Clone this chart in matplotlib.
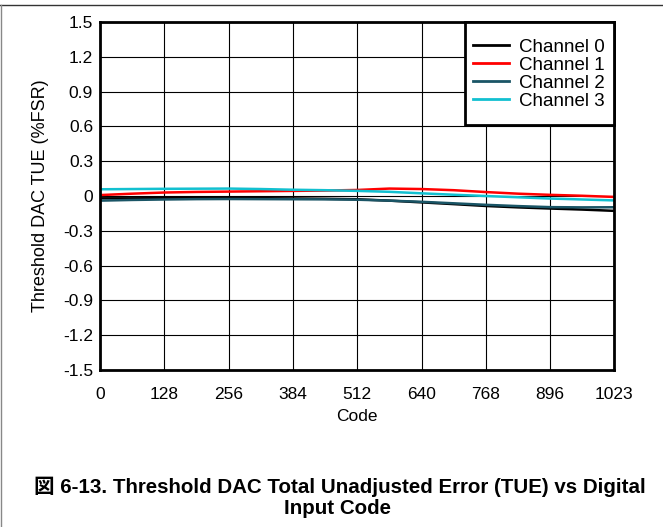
import matplotlib
matplotlib.use('Agg')
import matplotlib.pyplot as plt
from matplotlib.lines import Line2D
from matplotlib.patches import Rectangle

plt.rcParams['font.family'] = ['Liberation Sans', 'Noto Sans CJK JP', 'DejaVu Sans']

# ---- data ----
code = [0, 64, 128, 192, 256, 320, 384, 448, 512, 576, 640, 704, 768, 832, 896, 960, 1023]
ch0 = [-0.020, -0.020, -0.019, -0.018, -0.018, -0.019, -0.021, -0.024, -0.028, -0.040, -0.055, -0.070, -0.086, -0.098, -0.108, -0.117, -0.128]
ch1 = [0.008, 0.020, 0.030, 0.035, 0.038, 0.041, 0.044, 0.047, 0.052, 0.064, 0.060, 0.050, 0.034, 0.020, 0.010, 0.002, -0.008]
ch2 = [-0.040, -0.034, -0.030, -0.027, -0.026, -0.027, -0.028, -0.029, -0.032, -0.040, -0.050, -0.063, -0.076, -0.087, -0.096, -0.098, -0.097]
ch3 = [0.058, 0.060, 0.062, 0.063, 0.064, 0.060, 0.054, 0.050, 0.044, 0.036, 0.023, 0.011, 0.000, -0.011, -0.022, -0.030, -0.038]

channels = ["Channel 0", "Channel 1", "Channel 2", "Channel 3"]
colors = ["#000000", "#FF0000", "#1A5566", "#12C0D0"]

xticks = [0, 128, 256, 384, 512, 640, 768, 896, 1023]
yticks = [1.5, 1.2, 0.9, 0.6, 0.3, 0, -0.3, -0.6, -0.9, -1.2, -1.5]
ytick_labels = ["1.5", "1.2", "0.9", "0.6", "0.3", "0", "-0.3", "-0.6", "-0.9", "-1.2", "-1.5"]

W, H = 663, 527
AX_L, AX_R, AX_T, AX_B = 100, 614, 22, 370

fig = plt.figure(figsize=(W / 100, H / 100), dpi=100)
ax = fig.add_axes([AX_L / W, 1 - AX_B / H, (AX_R - AX_L) / W, (AX_B - AX_T) / H])

for series, c, label in zip([ch0, ch1, ch2, ch3], colors, channels):
    ax.plot(code, series, color=c, lw=1.8, label=label)

ax.set_xlim(0, 1023)
ax.set_ylim(-1.5, 1.5)
ax.set_xticks(xticks)
ax.set_yticks(yticks)
ax.set_yticklabels(ytick_labels)
ax.tick_params(length=0, labelsize=12.5)
ax.tick_params(axis='x', pad=12)
ax.tick_params(axis='y', pad=5)
ax.grid(True, color='black', lw=0.8)
ax.set_axisbelow(True)
for sp in ax.spines.values():
    sp.set_linewidth(2)

ax.set_xlabel("Code", fontsize=12.5, labelpad=5)
ax.set_ylabel("Threshold DAC TUE (%FSR)", fontsize=13, labelpad=10)

# ---- 圖例：外框另外畫，上下留白比左右多 ----
box_l, box_b = 465, 125
ax.add_patch(Rectangle(((box_l - AX_L) / (AX_R - AX_L), (AX_B - box_b) / (AX_B - AX_T)),
                       (AX_R - box_l) / (AX_R - AX_L), (box_b - AX_T) / (AX_B - AX_T),
                       transform=ax.transAxes, facecolor='white', edgecolor='black',
                       lw=2, zorder=4.9, clip_on=False))
handles = [Line2D([], [], color=c, lw=2) for c in colors]
leg = ax.legend(handles, channels, loc='upper right', fontsize=13.5,
                bbox_to_anchor=(1, 1 - 7 / (AX_B - AX_T)),
                borderaxespad=0, frameon=False,
                handlelength=1.9, handletextpad=0.55, labelspacing=0.05,
                borderpad=0.5)

# ---- 外框線 ----
fig.add_artist(Line2D([0, 1], [1 - 4.5 / H, 1 - 4.5 / H], color='#333333', lw=1))
fig.add_artist(Line2D([1 / W, 1 / W], [0, 1 - 4.5 / H], color='#888888', lw=1))

# ---- 圖說 ----
fig.text(340 / W, 1 - 487 / H, "図 6-13. Threshold DAC Total Unadjusted Error (TUE) vs Digital",
         ha='center', va='center', fontsize=14.8, fontweight='bold')
fig.text(338 / W, 1 - 509 / H, "Input Code",
         ha='center', va='center', fontsize=14.8, fontweight='bold')

fig.savefig('out.png', dpi=100)
